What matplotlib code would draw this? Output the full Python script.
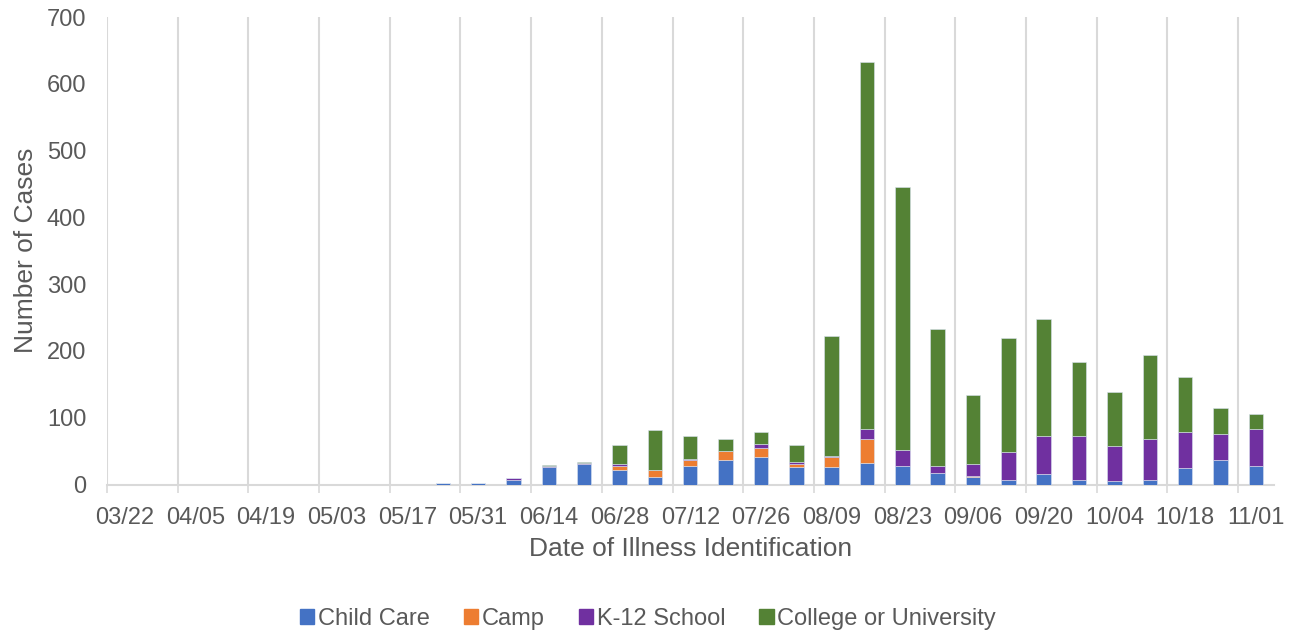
import numpy as np
import matplotlib.pyplot as plt
from matplotlib.patches import Patch

plt.rcParams['font.family'] = ['Liberation Sans', 'DejaVu Sans']

# weekly categories 03/22 .. 11/01
weeks = ["03/22", "03/29", "04/05", "04/12", "04/19", "04/26", "05/03", "05/10",
         "05/17", "05/24", "05/31", "06/07", "06/14", "06/21", "06/28", "07/05",
         "07/12", "07/19", "07/26", "08/02", "08/09", "08/16", "08/23", "08/30",
         "09/06", "09/13", "09/20", "09/27", "10/04", "10/11", "10/18", "10/25",
         "11/01"]

child_care = [0] * 9 + [2, 2, 6, 26, 30, 22, 11, 27, 36, 41, 26, 26, 32, 27, 17,
                        11, 7, 15, 6, 5, 6, 25, 37, 27]
camp = [0] * 9 + [0, 0, 0, 0, 0, 5, 10, 10, 14, 14, 4, 15, 36, 0, 0,
                  1, 0, 0, 0, 0, 0, 0, 0, 0]
k12 = [0] * 9 + [0, 0, 4, 1, 2, 3, 1, 1, 0, 5, 4, 2, 15, 25, 10,
                 19, 41, 57, 66, 53, 62, 53, 38, 56]
college = [0] * 9 + [0, 0, 0, 2, 2, 29, 60, 35, 18, 18, 25, 180, 550, 393, 206,
                     103, 171, 176, 112, 81, 126, 83, 39, 22]

series = [("Child Care", child_care, "#4472C4"),
          ("Camp", camp, "#ED7D31"),
          ("K-12 School", k12, "#7030A0"),
          ("College or University", college, "#548235")]

grey = "#595959"
fig = plt.figure(figsize=(12.96, 6.36), dpi=100)
ax = fig.add_axes([107 / 1296, (636 - 484.5) / 636,
                   (1273.5 - 107) / 1296, (484.5 - 17) / 636])

x = np.arange(len(weeks))
bottom = np.zeros(len(weeks))
for name, vals, col in series:
    vals = np.array(vals, dtype=float)
    ax.bar(x, vals, width=0.41, bottom=bottom, color=col,
           edgecolor="#d9e2f0", linewidth=0.4, zorder=3, label=name)
    bottom += vals

ax.set_xlim(-0.5, len(weeks) - 0.5)
ax.set_ylim(0, 700)
ax.set_yticks(range(0, 701, 100))

# gridlines/ticks sit on category boundaries, every 2 weeks
ax.set_xticks(np.arange(-0.5, len(weeks) - 1, 2))
ax.set_xticklabels([])
ax.set_xticks(x[::2], minor=True)
ax.set_xticklabels(weeks[::2], minor=True)
ax.tick_params(axis="x", which="major", length=6, width=1.2, color="#d9d9d9")
ax.tick_params(axis="x", which="minor", length=0, pad=16, labelsize=17,
               labelcolor=grey)
ax.tick_params(axis="y", length=0, pad=15, labelsize=17, labelcolor=grey)
ax.grid(axis="x", which="major", color="#d9d9d9", linewidth=1.5, zorder=0)

for s in ["top", "right", "left"]:
    ax.spines[s].set_visible(False)
ax.spines["bottom"].set_color("#d9d9d9")
ax.spines["bottom"].set_linewidth(1.5)

ax.set_xlabel("Date of Illness Identification", fontsize=19, color=grey,
              labelpad=6)
ax.set_ylabel("Number of Cases", fontsize=19, color=grey, labelpad=6)

handles = [Patch(color=c, label=n) for n, _, c in series]
fig.legend(handles=handles, loc="center", bbox_to_anchor=(0.5, 1 - 619 / 636),
           ncol=4, frameon=False, fontsize=17, labelcolor=grey,
           handlelength=0.6, handleheight=0.6, handletextpad=0.15,
           columnspacing=1.45)

fig.savefig("out.png", dpi=100)
